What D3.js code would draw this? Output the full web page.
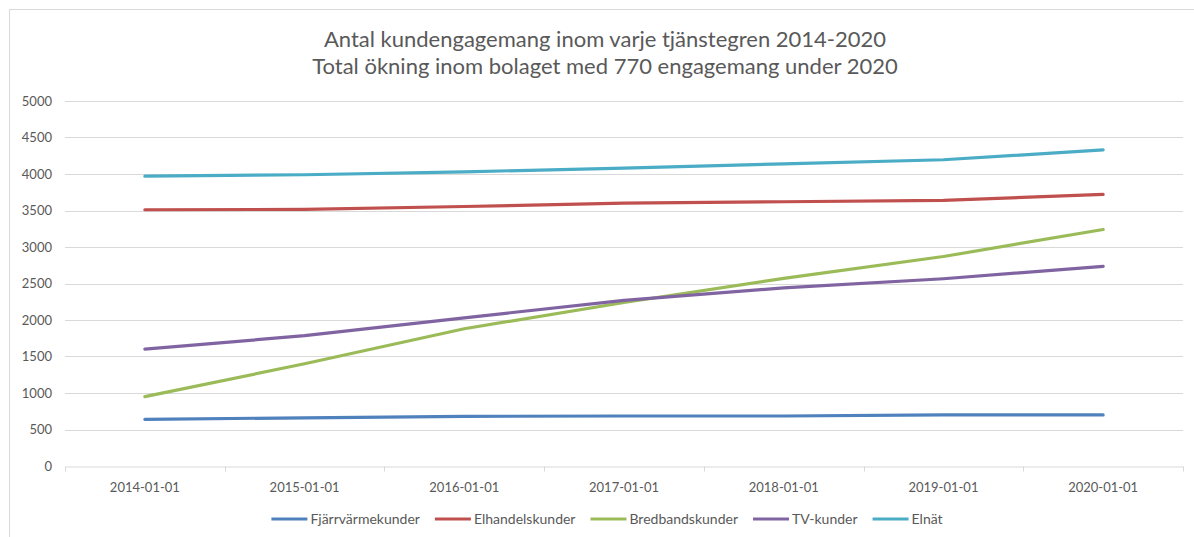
<!DOCTYPE html>
<html>
<head>
<meta charset="utf-8">
<script src="https://cdn.jsdelivr.net/npm/d3@7"></script>
<style>
  body { margin: 0; background: #fff; }
  svg { display: block; font-family: Lato, "Noto Sans", sans-serif; }
</style>
</head>
<body>
<div id="chart"></div>
<script>
// Data
var years = ["2014-01-01", "2015-01-01", "2016-01-01", "2017-01-01", "2018-01-01", "2019-01-01", "2020-01-01"];
var fjarrvarme = [640, 660, 680, 685, 685, 700, 700];
var elhandel = [3510, 3515, 3555, 3600, 3620, 3640, 3720];
var bredband = [950, 1400, 1880, 2240, 2570, 2870, 3240];
var tvKunder = [1600, 1785, 2030, 2270, 2440, 2565, 2735];
var elnat = [3970, 3990, 4030, 4080, 4140, 4195, 4330];
var seriesNames = ["Fjärrvärmekunder", "Elhandelskunder", "Bredbandskunder", "TV-kunder", "Elnät"];
var seriesColors = ["#4F81BD", "#C0504D", "#9BBB59", "#8064A2", "#4BACC6"];
var yTicks = [0, 500, 1000, 1500, 2000, 2500, 3000, 3500, 4000, 4500, 5000];
var titleLines = ["Antal kundengagemang inom varje tjänstegren 2014-2020",
                  "Total ökning inom bolaget med 770 engagemang under 2020"];

var series = [fjarrvarme, elhandel, bredband, tvKunder, elnat].map(function(v, i) {
  return { name: seriesNames[i], color: seriesColors[i], values: v };
});

var W = 1194, H = 537;
var margin = {top: 101, right: 11, bottom: 71, left: 65};
var width = W - margin.left - margin.right,
    height = H - margin.top - margin.bottom;

var svg = d3.select("#chart").append("svg")
    .attr("width", W)
    .attr("height", H);

// chart area border
svg.append("rect")
    .attr("x", 9.5).attr("y", 9.5)
    .attr("width", W + 10).attr("height", H + 10)
    .attr("fill", "none")
    .attr("stroke", "#d9d9d9");

var g = svg.append("g")
    .attr("transform", "translate(" + margin.left + "," + margin.top + ")");

var x = d3.scaleBand().domain(years).range([0, width]);
var y = d3.scaleLinear().domain([0, 5000]).range([height, 0]);

// horizontal gridlines
g.selectAll("line.grid")
  .data(yTicks.slice(1))
  .enter().append("line")
    .attr("class", "grid")
    .attr("x1", 0).attr("x2", width)
    .attr("y1", function(d) { return Math.round(y(d)) + 0.5; })
    .attr("y2", function(d) { return Math.round(y(d)) + 0.5; })
    .attr("stroke", "#d9d9d9");

// y axis labels
var yAxis = d3.axisLeft(y).tickValues(yTicks).tickSize(0).tickPadding(13).tickFormat(d3.format("d"));
var yg = g.append("g").call(yAxis);
yg.select(".domain").remove();
yg.selectAll("text")
    .attr("fill", "#595959")
    .style("font-size", "13px")
    .style("font-family", "Lato, sans-serif");

// x axis
var xAxis = d3.axisBottom(x).tickSize(0).tickPadding(16);
var xg = g.append("g")
    .attr("transform", "translate(0," + (Math.round(height) + 0.5) + ")")
    .call(xAxis);
xg.select(".domain").attr("stroke", "#d9d9d9");
xg.selectAll("text")
    .attr("fill", "#595959")
    .style("font-size", "13px")
    .style("font-family", "Lato, sans-serif");

// tick marks between categories
var bounds = years.map(function(d) { return x(d); }).concat([width]);
xg.selectAll("line.sep")
  .data(bounds)
  .enter().append("line")
    .attr("class", "sep")
    .attr("x1", function(d) { return Math.round(d) + 0.5; })
    .attr("x2", function(d) { return Math.round(d) + 0.5; })
    .attr("y1", 0).attr("y2", 5)
    .attr("stroke", "#d9d9d9");

// lines
var line = d3.line()
    .x(function(d, i) { return x(years[i]) + x.bandwidth() / 2; })
    .y(function(d) { return y(d); });

g.selectAll("path.series")
  .data(series)
  .enter().append("path")
    .attr("class", "series")
    .attr("fill", "none")
    .attr("stroke", function(d) { return d.color; })
    .attr("stroke-width", 3.2)
    .attr("stroke-linejoin", "round")
    .attr("stroke-linecap", "round")
    .attr("d", function(d) { return line(d.values); });

// title
svg.selectAll("text.title")
  .data(titleLines)
  .enter().append("text")
    .attr("class", "title")
    .attr("x", 605)
    .attr("y", function(d, i) { return 47 + i * 27; })
    .attr("text-anchor", "middle")
    .attr("fill", "#595959")
    .style("font-size", "22px")
    .text(function(d) { return d; });

// legend
var legend = svg.append("g").attr("class", "legend");
var items = legend.selectAll("g.item")
  .data(series)
  .enter().append("g")
    .attr("class", "item");

items.append("line")
    .attr("x1", 0).attr("x2", 36)
    .attr("y1", 0).attr("y2", 0)
    .attr("stroke", function(d) { return d.color; })
    .attr("stroke-width", 3.2);

items.append("text")
    .attr("x", 39)
    .attr("dy", "0.35em")
    .attr("fill", "#595959")
    .style("font-size", "14px")
    .text(function(d) { return d.name; });

var offset = 0;
var widths = [];
items.each(function() {
  widths.push(this.getBBox().width);
});
var total = d3.sum(widths) + 15 * (widths.length - 1);
var startX = 607 - total / 2;
items.attr("transform", function(d, i) {
  var tx = startX + offset;
  offset += widths[i] + 15;
  return "translate(" + tx + ",519)";
});
</script>
</body>
</html>
